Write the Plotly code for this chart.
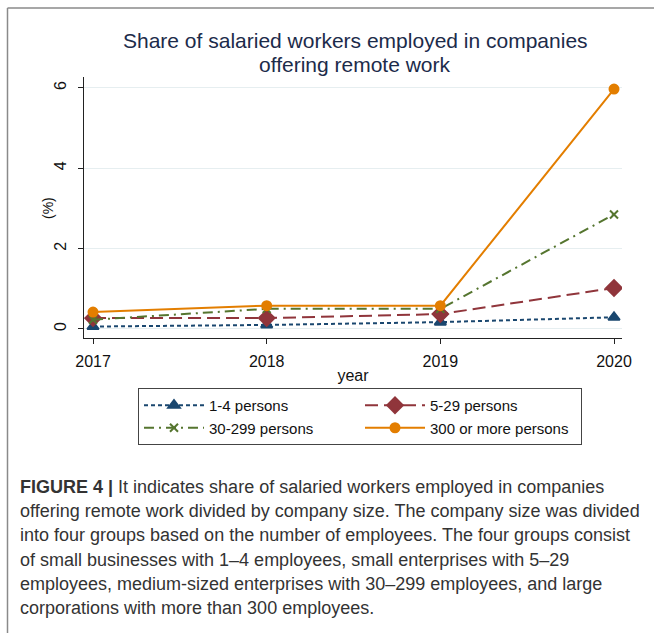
import plotly.graph_objects as go

# Survey years
years = [2017, 2018, 2019, 2020]

# Share (%) of salaried workers in companies offering remote work, by company size
share_1_4 = [0.06, 0.10, 0.17, 0.29]
share_5_29 = [0.27, 0.27, 0.37, 1.02]
share_30_299 = [0.23, 0.50, 0.50, 2.85]
share_300_plus = [0.42, 0.58, 0.58, 5.97]

series_names = ["1-4 persons", "5-29 persons", "30-299 persons", "300 or more persons"]

caption_lines = [
    "<b>FIGURE 4 |</b> It indicates share of salaried workers employed in companies",
    "offering remote work divided by company size. The company size was divided",
    "into four groups based on the number of employees. The four groups consist",
    "of small businesses with 1\u20134 employees, small enterprises with 5\u201329",
    "employees, medium-sized enterprises with 30\u2013299 employees, and large",
    "corporations with more than 300 employees.",
]

W, H = 654, 633
L, R, T, B = 84, 32, 77, 295
PW, PH = W - L - R, H - T - B


def px_x(px):
    return (px - L) / PW


def px_y(py):
    return (H - B - py) / PH


FONT = "Liberation Sans, Arial, sans-serif"

styles = [
    dict(color="#1a476f", dash="4px,3px", symbol="triangle-up", size=10),
    dict(color="#90353b", dash="13px,6px", symbol="diamond", size=12),
    dict(color="#55752f", dash="10px,5px,2px,5px", symbol="x-thin-open", size=8),
    dict(color="#e37e00", dash="solid", symbol="circle", size=9),
]

fig = go.Figure()
for name, vals, st in zip(series_names,
                          [share_1_4, share_5_29, share_30_299, share_300_plus],
                          styles):
    fig.add_trace(go.Scatter(
        x=years, y=vals, name=name, mode="lines+markers",
        line=dict(color=st["color"], dash=st["dash"], width=2),
        marker=dict(color=st["color"], symbol=st["symbol"], size=st["size"],
                    line=dict(color=st["color"], width=2)),
    ))

fig.update_layout(
    width=W, height=H,
    margin=dict(l=L, r=R, t=T, b=B),
    paper_bgcolor="white", plot_bgcolor="white",
    font=dict(family=FONT, color="#111111", size=14),
    showlegend=True,
    legend=dict(
        orientation="h",
        x=px_x(138), y=px_y(388), xanchor="left", yanchor="top",
        entrywidth=146, itemwidth=60,
        bordercolor="#444444", borderwidth=1,
        font=dict(family=FONT, size=15, color="#111111"),
        tracegroupgap=0,
    ),
    xaxis=dict(
        range=[2016.948, 2020.046], tickvals=years, showgrid=False, zeroline=False,
        showline=True, linecolor="#222222", linewidth=1,
        ticks="outside", ticklen=5, tickcolor="#222222",
        ticklabelstandoff=4,
        tickfont=dict(size=16, color="#111111"),
        title=dict(text="year", font=dict(size=16, color="#111111"), standoff=0),
    ),
    yaxis=dict(
        range=[-0.225, 6.27], tickvals=[0, 2, 4, 6], tickangle=-90,
        showgrid=True, gridcolor="#e6eef0", gridwidth=1, zeroline=False,
        showline=True, linecolor="#222222", linewidth=1,
        ticks="outside", ticklen=5, tickcolor="#222222",
        ticklabelstandoff=6,
        tickfont=dict(size=16, color="#111111"),
    ),
)

# Y-axis title
fig.add_annotation(text="(%)", x=px_x(48), y=px_y(208), xref="paper", yref="paper",
                   xanchor="center", yanchor="middle", showarrow=False, textangle=-90,
                   font=dict(family=FONT, size=14, color="#111111"))

# Chart title, two lines
for text, py in [("Share of salaried workers employed in companies", 40.5),
                 ("offering remote work", 64.5)]:
    fig.add_annotation(text=text, x=px_x(355), y=px_y(py), xref="paper", yref="paper",
                       xanchor="center", yanchor="middle", showarrow=False,
                       font=dict(family=FONT, size=21, color="#1c2b4a"))

# Figure caption
for i, line in enumerate(caption_lines):
    fig.add_annotation(text=line, x=px_x(18), y=px_y(487 + i * 24.2),
                       xref="paper", yref="paper", xanchor="left", yanchor="middle",
                       showarrow=False,
                       font=dict(family=FONT, size=18, color="#333333"))

# Outer frame lines (left and top)
fig.add_shape(type="line", xref="paper", yref="paper",
              x0=px_x(7.5), x1=px_x(7.5), y0=px_y(8), y1=px_y(640),
              line=dict(color="#8a8a8a", width=1.5))
fig.add_shape(type="line", xref="paper", yref="paper",
              x0=px_x(7.5), x1=px_x(660), y0=px_y(8), y1=px_y(8),
              line=dict(color="#8a8a8a", width=1.5))

fig.write_html("out.html")
